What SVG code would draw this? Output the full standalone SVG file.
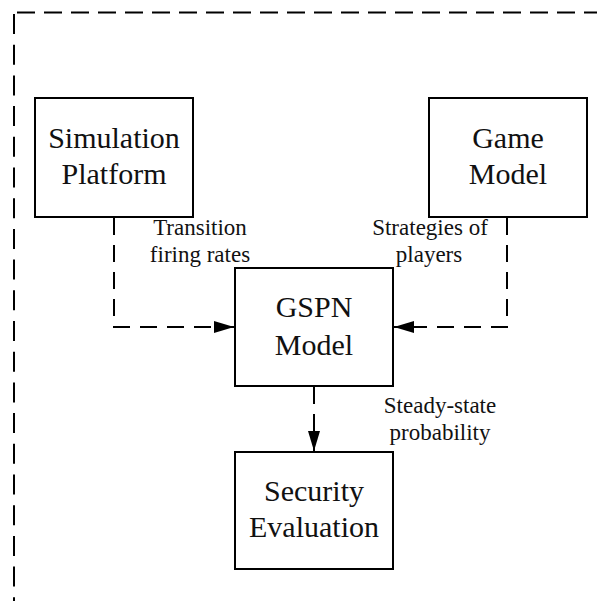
<svg xmlns="http://www.w3.org/2000/svg" width="597" height="601" viewBox="0 0 597 601">
  <style>
    .box { fill: #ffffff; stroke: #000000; stroke-width: 2; }
    .title { font-family: "Liberation Serif", "Times New Roman", serif; font-size: 30px; fill: #111111; text-anchor: middle; }
    .label { font-family: "Liberation Serif", "Times New Roman", serif; font-size: 23px; fill: #111111; text-anchor: middle; }
    .frame { fill: none; stroke: #000000; stroke-width: 2; }
    .link { fill: none; stroke: #000000; stroke-width: 2; stroke-dasharray: 17 10; }
  </style>
  <defs>
    <marker id="arrow" viewBox="0 0 20 12" refX="20" refY="6" markerWidth="20" markerHeight="12" markerUnits="userSpaceOnUse" orient="auto">
      <path d="M0,0 L20,6 L0,12 Z" fill="#000000"/>
    </marker>
  </defs>

  <!-- outer dashed frame -->
  <g id="frame">
    <line class="frame" x1="17" y1="12.5" x2="597" y2="12.5" stroke-dasharray="18 9"/>
    <line class="frame" x1="14" y1="14" x2="14" y2="601" stroke-dasharray="20 10.7"/>
  </g>

  <!-- connectors -->
  <g id="connectors">
    <path class="link" d="M114,218 V327 H234" marker-end="url(#arrow)"/>
    <path class="link" d="M507,218 V327 H394" marker-end="url(#arrow)"/>
    <path class="link" d="M314,387 V451" marker-end="url(#arrow)"/>
    <text class="label" x="200" y="235">Transition</text>
    <text class="label" x="200" y="262">firing rates</text>
    <text class="label" x="430" y="235">Strategies of</text>
    <text class="label" x="429" y="262">players</text>
    <text class="label" x="440" y="413">Steady-state</text>
    <text class="label" x="440" y="440">probability</text>
  </g>

  <g id="simulation-platform">
    <rect class="box" x="35" y="98" width="158" height="119"/>
    <text class="title" x="114" y="148">Simulation</text>
    <text class="title" x="114" y="184">Platform</text>
  </g>

  <g id="game-model">
    <rect class="box" x="429" y="98" width="158" height="119"/>
    <text class="title" x="508" y="148">Game</text>
    <text class="title" x="508" y="184">Model</text>
  </g>

  <g id="gspn-model">
    <rect class="box" x="235" y="268" width="158" height="118"/>
    <text class="title" x="314" y="317">GSPN</text>
    <text class="title" x="314" y="355">Model</text>
  </g>

  <g id="security-evaluation">
    <rect class="box" x="235" y="452" width="158" height="117"/>
    <text class="title" x="314" y="501">Security</text>
    <text class="title" x="314" y="537">Evaluation</text>
  </g>
</svg>
